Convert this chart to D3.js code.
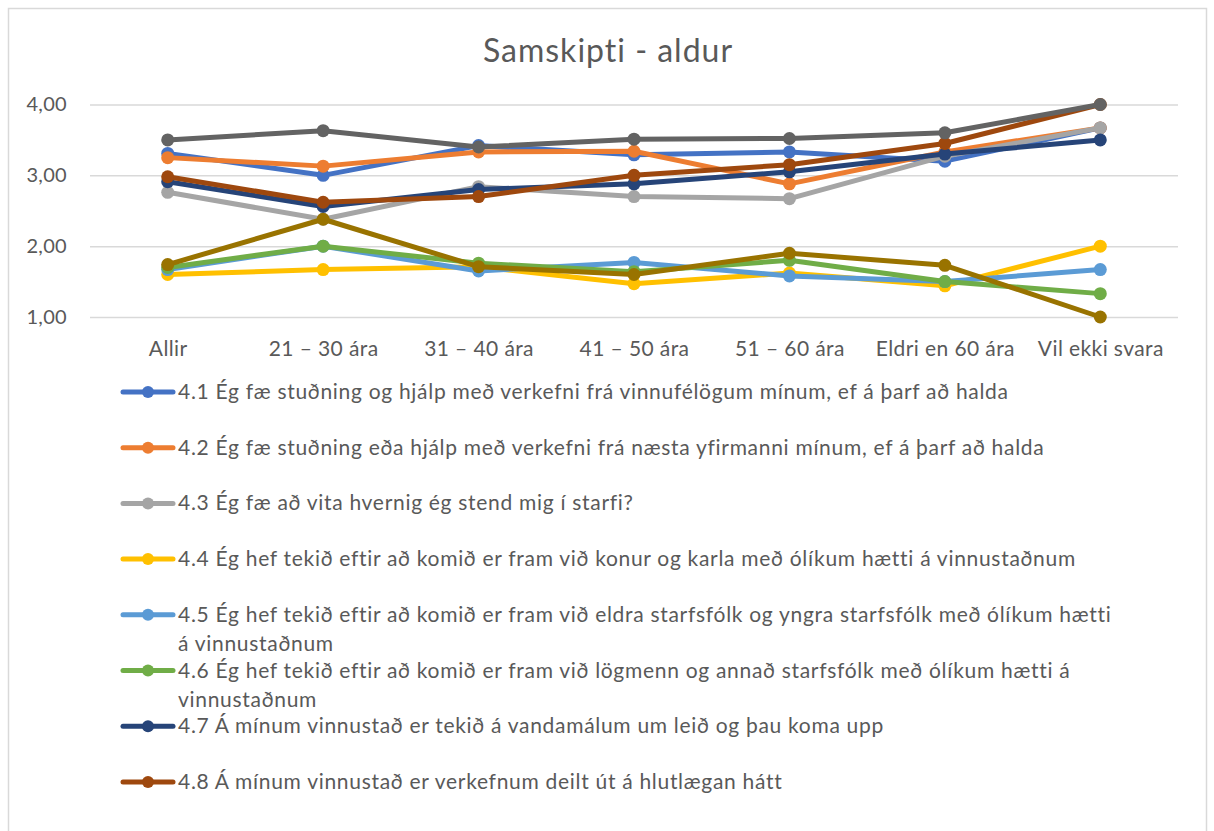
<!DOCTYPE html>
<html>
<head>
<meta charset="utf-8">
<script src="https://cdn.jsdelivr.net/npm/d3@7"></script>
<style>
  body { margin: 0; background: #fff; }
  svg text { font-family: Lato, "Open Sans", sans-serif; fill: #595959; }
</style>
</head>
<body>
<svg></svg>
<script>
const width = 1214;
const height = 831;

const categories = ['Allir', '21 – 30 ára', '31 – 40 ára', '41 – 50 ára', '51 – 60 ára', 'Eldri en 60 ára', 'Vil ekki svara'];
const yTicks = [1, 2, 3, 4];

const seriesNames = ['4.1', '4.2', '4.3', '4.4', '4.5', '4.6', '4.7', '4.8', '4.9', '4.10'];
const seriesColors = ['#4472C4', '#ED7D31', '#A5A5A5', '#FFC000', '#5B9BD5', '#70AD47', '#264478', '#9E480E', '#636363', '#997300'];

// legend labels, split where the original wraps them
const legendLabels = [
  ['4.1 Ég fæ stuðning og hjálp með verkefni frá vinnufélögum mínum, ef á þarf að halda'],
  ['4.2 Ég fæ stuðning eða hjálp með verkefni frá næsta yfirmanni mínum, ef á þarf að halda'],
  ['4.3 Ég fæ að vita hvernig ég stend mig í starfi?'],
  ['4.4 Ég hef tekið eftir að komið er fram við konur og karla með ólíkum hætti á vinnustaðnum'],
  ['4.5 Ég hef tekið eftir að komið er fram við eldra starfsfólk og yngra starfsfólk með ólíkum hætti', 'á vinnustaðnum'],
  ['4.6 Ég hef tekið eftir að komið er fram við lögmenn og annað starfsfólk með ólíkum hætti á', 'vinnustaðnum'],
  ['4.7 Á mínum vinnustað er tekið á vandamálum um leið og þau koma upp'],
  ['4.8 Á mínum vinnustað er verkefnum deilt út á hlutlægan hátt']
];

const s41 = [3.31, 3.00, 3.42, 3.29, 3.33, 3.20, 3.67];
const s42 = [3.25, 3.13, 3.33, 3.34, 2.88, 3.33, 3.67];
const s43 = [2.76, 2.38, 2.84, 2.70, 2.67, 3.27, 3.67];
const s44 = [1.60, 1.67, 1.71, 1.47, 1.62, 1.44, 2.00];
const s45 = [1.67, 2.00, 1.65, 1.77, 1.58, 1.50, 1.67];
const s46 = [1.70, 2.00, 1.76, 1.64, 1.80, 1.50, 1.33];
const s47 = [2.91, 2.56, 2.80, 2.88, 3.05, 3.30, 3.50];
const s48 = [2.98, 2.62, 2.70, 3.00, 3.15, 3.45, 4.00];
const s49 = [3.50, 3.63, 3.40, 3.51, 3.52, 3.60, 4.00];
const s410 = [1.74, 2.38, 1.71, 1.60, 1.90, 1.73, 1.00];

const seriesValues = [s41, s42, s43, s44, s45, s46, s47, s48, s49, s410];

const series = seriesNames.map((name, i) => ({
  name,
  color: seriesColors[i],
  values: seriesValues[i].map((v, j) => ({ cat: categories[j], v }))
}));

const svg = d3.select('svg')
  .attr('width', width)
  .attr('height', height);

svg.append('rect')
  .attr('width', width)
  .attr('height', height)
  .attr('fill', '#fff');

// chart frame (runs past the bottom of the picture)
svg.append('rect')
  .attr('x', 8.5)
  .attr('y', 8.5)
  .attr('width', 1198)
  .attr('height', 900)
  .attr('fill', 'none')
  .attr('stroke', '#d9d9d9')
  .attr('stroke-width', 1.5);

const xScale = d3.scalePoint()
  .domain(categories)
  .range([90, 1178])
  .padding(0.5);

const yScale = d3.scaleLinear()
  .domain([1, 4])
  .range([317, 104.5]);

// ====================================
// Title
// ====================================
svg.append('text')
  .text('Samskipti - aldur')
  .attr('x', 608)
  .attr('y', 62)
  .attr('text-anchor', 'middle')
  .attr('font-size', 32)
  .attr('letter-spacing', 1);

// ====================================
// Grid and axes
// ====================================
const yAxis = d3.axisLeft(yScale)
  .tickValues(yTicks)
  .tickSize(-(1178 - 90))
  .tickPadding(23)
  .tickFormat(d => d3.format('.2f')(d).replace('.', ','));

const yG = svg.append('g')
  .attr('transform', 'translate(90, 0)')
  .call(yAxis);
yG.select('.domain').remove();
yG.selectAll('line')
  .attr('stroke', '#d9d9d9')
  .attr('stroke-width', 1.5);
yG.selectAll('text')
  .attr('font-size', 20)
  .attr('letter-spacing', 0.3)
  .attr('fill', '#595959');

const xAxis = d3.axisBottom(xScale)
  .tickSize(0)
  .tickPadding(24);

const xG = svg.append('g')
  .attr('transform', 'translate(0, 317)')
  .call(xAxis);
xG.select('.domain').remove();
xG.selectAll('text')
  .attr('font-size', 21)
  .attr('letter-spacing', 0.4)
  .attr('fill', '#595959');

// ====================================
// Lines and markers
// ====================================
const line = d3.line()
  .x(d => xScale(d.cat))
  .y(d => yScale(d.v));

const sG = svg.selectAll('.series')
  .data(series)
  .enter()
  .append('g')
  .attr('class', 'series');

sG.append('path')
  .attr('d', d => line(d.values))
  .attr('fill', 'none')
  .attr('stroke', d => d.color)
  .attr('stroke-width', 5)
  .attr('stroke-linejoin', 'round');

sG.selectAll('circle')
  .data(d => d.values.map(p => ({ ...p, color: d.color })))
  .enter()
  .append('circle')
  .attr('cx', d => xScale(d.cat))
  .attr('cy', d => yScale(d.v))
  .attr('r', 6.5)
  .attr('fill', d => d.color);

// ====================================
// Legend
// ====================================
const legend = svg.selectAll('.legend')
  .data(legendLabels)
  .enter()
  .append('g')
  .attr('class', 'legend')
  .attr('transform', (d, i) => `translate(0, ${392 + i * 55.7})`);

legend.append('line')
  .attr('x1', 123)
  .attr('x2', 173)
  .attr('stroke', (d, i) => seriesColors[i])
  .attr('stroke-width', 5)
  .attr('stroke-linecap', 'round');

legend.append('circle')
  .attr('cx', 148)
  .attr('r', 6)
  .attr('fill', (d, i) => seriesColors[i]);

legend.append('text')
  .attr('x', 178)
  .attr('y', 7)
  .attr('font-size', 21)
  .attr('letter-spacing', 0.7)
  .selectAll('tspan')
  .data(d => d)
  .enter()
  .append('tspan')
  .attr('x', 178)
  .attr('dy', (d, i) => i === 0 ? 0 : 29)
  .text(d => d);
</script>
</body>
</html>
